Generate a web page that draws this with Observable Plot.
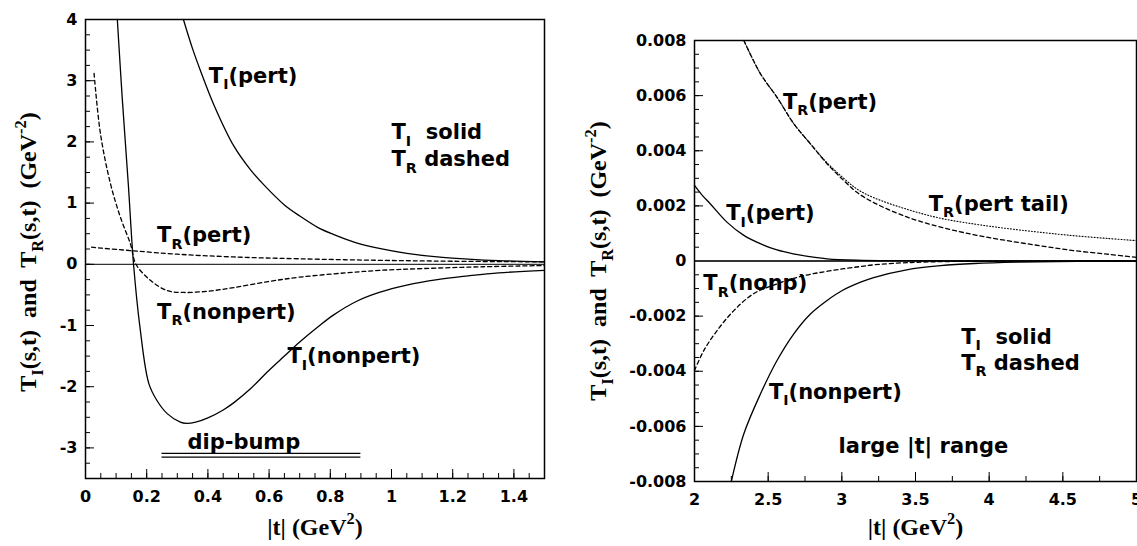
<!DOCTYPE html>
<html><head><meta charset="utf-8">
<script src="https://cdn.jsdelivr.net/npm/d3@7"></script>
<script src="https://cdn.jsdelivr.net/npm/@observablehq/plot@0.6"></script>
<style>
html,body{margin:0;padding:0;background:#fff;overflow:hidden;}
#wrap{position:relative;width:1137px;height:546px;overflow:hidden;background:#fff;}
#left{position:absolute;left:0;top:0;}
#right{position:absolute;left:560px;top:0;}
svg text{white-space:pre;}
</style></head>
<body><div id="wrap"><div id="left"></div><div id="right"></div></div>
<script>
// ---------------- LEFT PANEL DATA ----------------
const L_xTicks = [0, 0.2, 0.4, 0.6, 0.8, 1, 1.2, 1.4];
const L_xLabels = ["0", "0.2", "0.4", "0.6", "0.8", "1", "1.2", "1.4"];
const L_yTicks = [-3, -2, -1, 0, 1, 2, 3, 4];
const L_yLabels = ["-3", "-2", "-1", "0", "1", "2", "3", "4"];

const L_TIpert_x = [0.32, 0.35, 0.376, 0.42, 0.485, 0.54, 0.594, 0.65, 0.70, 0.76, 0.81, 0.88, 0.96, 1.05, 1.15, 1.25, 1.35, 1.5];
const L_TIpert_y = [4.0, 3.52, 3.16, 2.6, 1.93, 1.54, 1.24, 0.97, 0.79, 0.6, 0.49, 0.36, 0.26, 0.18, 0.12, 0.085, 0.06, 0.04];

const L_TInon_x = [0.104, 0.12, 0.14, 0.157, 0.178, 0.207, 0.234, 0.267, 0.31, 0.33, 0.36, 0.4, 0.45, 0.485, 0.54, 0.594, 0.65, 0.70, 0.76, 0.81, 0.888, 0.96, 1.05, 1.15, 1.25, 1.35, 1.5];
const L_TInon_y = [4.0, 2.72, 1.3, 0.0, -1.03, -1.95, -2.23, -2.44, -2.58, -2.6, -2.58, -2.51, -2.38, -2.26, -2.03, -1.76, -1.5, -1.27, -1.02, -0.83, -0.6, -0.46, -0.34, -0.25, -0.19, -0.14, -0.1];

const L_TRpert_x = [0.02, 0.05, 0.157, 0.3, 0.485, 0.7, 0.96, 1.2, 1.5];
const L_TRpert_y = [0.28, 0.265, 0.22, 0.165, 0.12, 0.09, 0.065, 0.05, 0.04];

const L_TRnon_x = [0.028, 0.049, 0.082, 0.114, 0.147, 0.165, 0.212, 0.267, 0.32, 0.4, 0.485, 0.6, 0.7, 0.85, 0.96, 1.1, 1.3, 1.5];
const L_TRnon_y = [3.12, 2.13, 1.31, 0.77, 0.33, 0.0, -0.26, -0.43, -0.46, -0.44, -0.38, -0.28, -0.21, -0.14, -0.1, -0.07, -0.04, -0.02];

const L_dipY = [-3.09, -3.15];
const L_dipX = [0.25, 0.9];

const L_labText = ["T_{I}(pert)", "T_{R}(pert)", "T_{R}(nonpert)", "T_{I}(nonpert)", "T_{I}  solid", "T_{R} dashed", "dip-bump"];
const L_labX = [0.403, 0.234, 0.234, 0.66, 1.0, 1.0, 0.333];
const L_labY = [2.97, 0.36, -0.89, -1.62, 2.04, 1.6, -3.01];

// ---------------- RIGHT PANEL DATA ----------------
const R_xTicks = [2, 2.5, 3, 3.5, 4, 4.5, 5];
const R_xLabels = ["2", "2.5", "3", "3.5", "4", "4.5", "5"];
const R_yTicks = [-0.008, -0.006, -0.004, -0.002, 0, 0.002, 0.004, 0.006, 0.008];
const R_yLabels = ["-0.008", "-0.006", "-0.004", "-0.002", "0", "0.002", "0.004", "0.006", "0.008"];

const R_TRpert_x = [2.335, 2.448, 2.56, 2.674, 2.787, 2.9, 3.013, 3.1, 3.216, 3.44, 3.67, 3.9, 4.12, 4.35, 4.57, 4.8, 5.0];
const R_TRpert_y = [0.0080, 0.00679, 0.00594, 0.00498, 0.00425, 0.00353, 0.00292, 0.0025, 0.00212, 0.0016, 0.00123, 0.00095, 0.00074, 0.00055, 0.00038, 0.00025, 0.00013];

const R_TRtail_x = [2.335, 2.448, 2.56, 2.674, 2.787, 2.9, 3.013, 3.1, 3.216, 3.44, 3.67, 3.9, 4.12, 4.35, 4.57, 4.8, 5.0];
const R_TRtail_y = [0.0080, 0.00679, 0.00594, 0.00498, 0.00425, 0.00356, 0.0030, 0.00262, 0.0023, 0.00188, 0.00155, 0.00134, 0.00118, 0.00104, 0.00092, 0.00082, 0.00074];

const R_TIpert_x = [2.0, 2.05, 2.108, 2.22, 2.335, 2.45, 2.56, 2.67, 2.78, 2.9, 3.1, 3.4, 3.8, 4.5, 5.0];
const R_TIpert_y = [0.00274, 0.0024, 0.00207, 0.00141, 0.00093, 0.00062, 0.0004, 0.00026, 0.00016, 0.00008, 0.00003, 0.00001, 0, 0, 0];

const R_TInon_x = [2.25, 2.335, 2.448, 2.56, 2.674, 2.787, 2.9, 3.0, 3.127, 3.216, 3.44, 3.67, 3.9, 4.2, 4.6, 5.0];
const R_TInon_y = [-0.008, -0.00627, -0.00482, -0.00361, -0.00264, -0.00192, -0.00143, -0.00108, -0.00077, -0.0006, -0.00032, -0.00017, -0.00009, -0.00004, -0.00001, 0];

const R_TRnon_x = [2.0, 2.063, 2.154, 2.267, 2.4, 2.56, 2.72, 2.87, 3.013, 3.127, 3.216, 3.44, 3.7, 4.0, 4.5, 5.0];
const R_TRnon_y = [-0.00397, -0.00325, -0.00252, -0.0018, -0.00119, -0.00083, -0.00056, -0.0004, -0.00028, -0.0002, -0.00014, -0.00006, -0.00002, -0.00001, 0, 0];

const R_labText = ["T_{R}(pert)", "T_{I}(pert)", "T_{R}(pert tail)", "T_{R}(nonp)", "T_{I}(nonpert)", "T_{I}  solid", "T_{R} dashed", "large |t| range"];
const R_labX = [2.6, 2.215, 3.59, 2.06, 2.505, 3.81, 3.81, 2.978];
const R_labY = [0.00553, 0.00147, 0.00183, -0.00107, -0.00499, -0.0030, -0.00395, -0.00698];

const yTitle = "T_{I}(s,t)  and  T_{R}(s,t)  (GeV^{-2})";
const xTitle = "|t| (GeV^{2})";

// ---------------- STYLE ----------------
const SANS = "'DejaVu Sans', sans-serif";
const SERIF = "'Liberation Serif', 'Times New Roman', serif";
const ANNOT = {fontFamily: SANS, fontWeight: "bold", fontSize: 21, fill: "#000"};
const TITLE = {fontFamily: SERIF, fontWeight: "bold", fontSize: 24, fill: "#000"};
const baseStyle = {fontFamily: SANS, fontWeight: "bold", fontSize: "16px", color: "#000", background: "transparent", overflow: "visible"};

// inward ticks: rules inset to a fixed pixel length from the bottom / left frame edge
function tickMarks(fw, fh, xTicks, xMinor, yTicks, yMinor) {
  return [
    Plot.ruleX(xMinor, {x: d => d, insetTop: fh - 5, stroke: "#000", strokeWidth: 1}),
    Plot.ruleX(xTicks, {x: d => d, insetTop: fh - 9, stroke: "#000", strokeWidth: 1}),
    Plot.ruleY(yMinor, {y: d => d, insetRight: fw - 5, stroke: "#000", strokeWidth: 1}),
    Plot.ruleY(yTicks, {y: d => d, insetRight: fw - 9, stroke: "#000", strokeWidth: 1})
  ];
}
function tickLabels(xTicks, xLabels, yTicks, yLabels) {
  return [
    Plot.axisX({ticks: xTicks, tickSize: 0, tickPadding: 12, tickFormat: d => xLabels[xTicks.indexOf(d)], label: null}),
    Plot.axisY({ticks: yTicks, tickSize: 0, tickPadding: 8, tickFormat: d => yLabels[yTicks.indexOf(d)], label: null})
  ];
}

function curve(X, Y, dash, extra = {}) {
  return Plot.line(X, {x: X, y: Y, curve: "catmull-rom", stroke: "#000", strokeWidth: 1.3, strokeDasharray: dash, ...extra});
}

const LW = 560, LH = 546, LM = {marginLeft: 85, marginRight: 16, marginTop: 19, marginBottom: 68};
const left = Plot.plot({
  width: LW, height: LH, ...LM,
  x: {domain: [0, 1.5]}, y: {domain: [-3.5, 4]},
  style: baseStyle,
  marks: [
    tickLabels(L_xTicks, L_xLabels, L_yTicks, L_yLabels),
    tickMarks(LW - LM.marginLeft - LM.marginRight, LH - LM.marginTop - LM.marginBottom,
              L_xTicks, d3.range(0, 1.5 + 1e-9, 0.05), L_yTicks, d3.range(-3.5, 4 + 1e-9, 0.25)),
    Plot.ruleY([0], {stroke: "#000", strokeWidth: 1}),
    curve(L_TRpert_x, L_TRpert_y, "4,3"),
    curve(L_TRnon_x, L_TRnon_y, "4,3"),
    curve(L_TIpert_x, L_TIpert_y, null),
    curve(L_TInon_x, L_TInon_y, null),
    Plot.ruleY(L_dipY, {x1: L_dipX[0], x2: L_dipX[1], stroke: "#000", strokeWidth: 1.3}),
    Plot.text(L_labText, {x: L_labX, y: L_labY, text: d => d, textAnchor: "start", lineAnchor: "bottom", ...ANNOT}),
    Plot.text([yTitle], {frameAnchor: "left", dx: -57, dy: 3, rotate: -90, text: d => d, textAnchor: "middle", lineAnchor: "middle", ...TITLE}),
    Plot.text([xTitle], {frameAnchor: "bottom", dy: 56, text: d => d, textAnchor: "middle", lineAnchor: "bottom", ...TITLE}),
    Plot.frame({stroke: "#000", strokeWidth: 1.5})
  ]
});

const RW = 577, RH = 546, RM = {marginLeft: 134, marginRight: 1, marginTop: 40, marginBottom: 65};
const right = Plot.plot({
  width: RW, height: RH, ...RM,
  x: {domain: [2, 5]}, y: {domain: [-0.008, 0.008]},
  style: baseStyle,
  marks: [
    tickLabels(R_xTicks, R_xLabels, R_yTicks, R_yLabels),
    tickMarks(RW - RM.marginLeft - RM.marginRight, RH - RM.marginTop - RM.marginBottom,
              R_xTicks, d3.range(2, 5 + 1e-9, 0.25), R_yTicks, d3.range(-0.008, 0.008 + 1e-12, 0.0005)),
    Plot.ruleY([0], {stroke: "#333", strokeWidth: 2}),
    curve(R_TRtail_x, R_TRtail_y, "1,2", {strokeWidth: 1.1}),
    curve(R_TRpert_x, R_TRpert_y, "4,3"),
    curve(R_TRnon_x, R_TRnon_y, "4,3"),
    curve(R_TIpert_x, R_TIpert_y, null),
    curve(R_TInon_x, R_TInon_y, null),
    Plot.text(R_labText, {x: R_labX, y: R_labY, text: d => d, textAnchor: "start", lineAnchor: "bottom", ...ANNOT}),
    Plot.text([yTitle], {frameAnchor: "left", dx: -96, dy: 0, rotate: -90, text: d => d, textAnchor: "middle", lineAnchor: "middle", ...TITLE}),
    Plot.text([xTitle], {frameAnchor: "bottom", dy: 53, text: d => d, textAnchor: "middle", lineAnchor: "bottom", ...TITLE}),
    Plot.frame({stroke: "#000", strokeWidth: 1.5})
  ]
});

document.getElementById("left").appendChild(left);
document.getElementById("right").appendChild(right);

// Convert _{..} and ^{..} markup into subscript / superscript tspans
function richify(svg) {
  svg.querySelectorAll("text").forEach(el => {
    const s = el.textContent;
    if (!/[_^]\{/.test(s)) return;
    const fs = parseFloat(getComputedStyle(el).fontSize) || 16;
    const segs = [];
    const re = /([_^])\{([^}]*)\}/g;
    let last = 0, m;
    while ((m = re.exec(s))) {
      if (m.index > last) segs.push({t: s.slice(last, m.index), k: "n"});
      segs.push({t: m[2], k: m[1] === "_" ? "sub" : "sup"});
      last = re.lastIndex;
    }
    if (last < s.length) segs.push({t: s.slice(last), k: "n"});
    while (el.firstChild) el.removeChild(el.firstChild);
    let cur = 0;
    for (const sg of segs) {
      const want = sg.k === "sub" ? 0.3 * fs : sg.k === "sup" ? -0.42 * fs : 0;
      const ts = document.createElementNS("http://www.w3.org/2000/svg", "tspan");
      if (want !== cur) ts.setAttribute("dy", (want - cur).toFixed(2));
      if (sg.k !== "n") ts.setAttribute("font-size", (0.68 * fs).toFixed(2));
      ts.textContent = sg.t;
      el.appendChild(ts);
      cur = want;
    }
  });
}
richify(left);
richify(right);
</script>
</body></html>
